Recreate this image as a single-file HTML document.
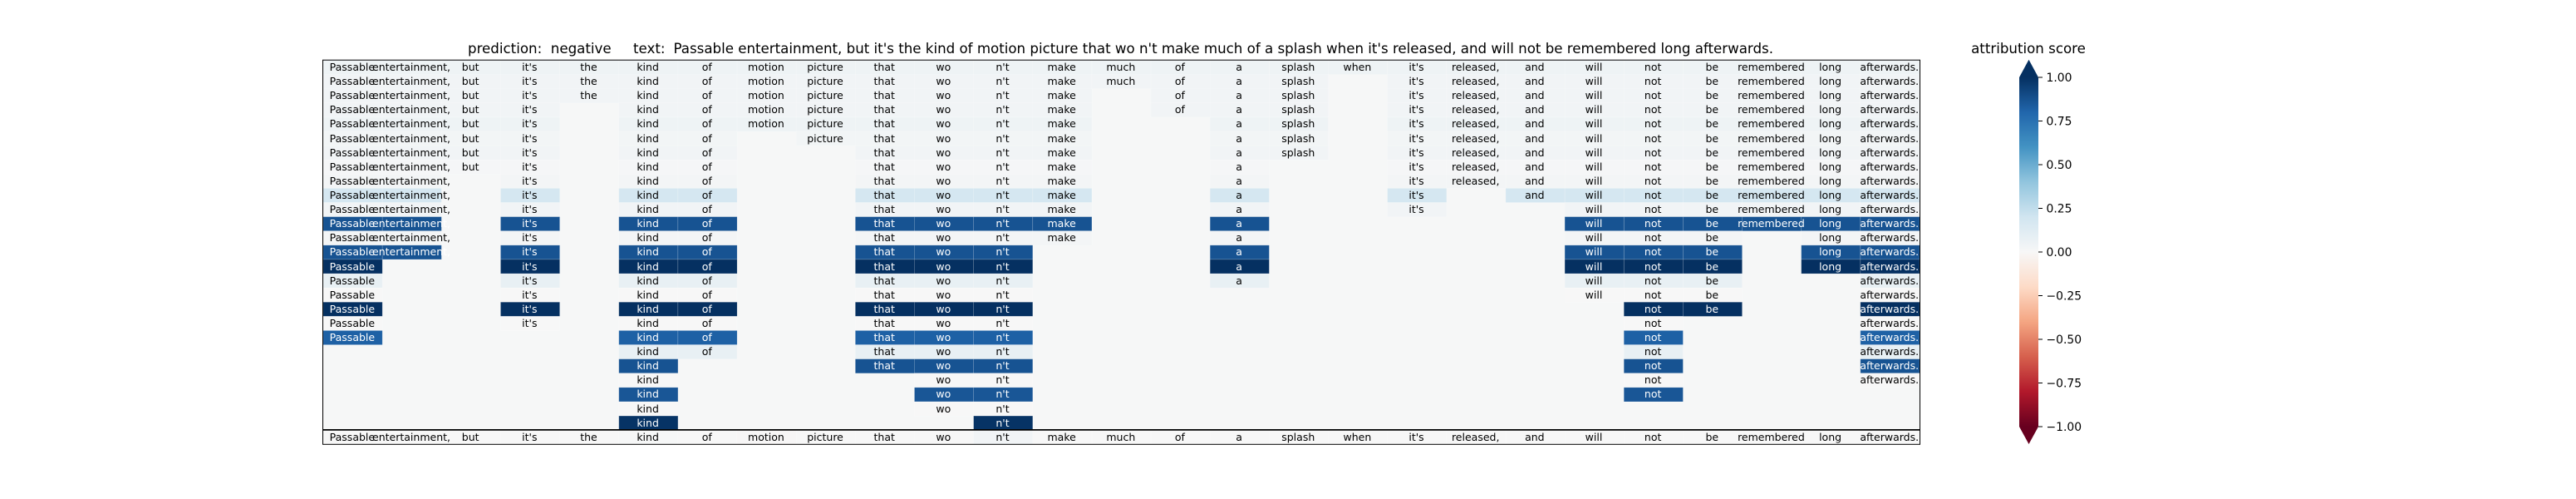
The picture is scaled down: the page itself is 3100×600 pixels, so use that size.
<!DOCTYPE html>
<html lang="en">
<head>
<meta charset="utf-8">
<title>Attribution chart</title>
<style>
  html, body { margin: 0; padding: 0; background: #ffffff; }
  svg { display: block; }
  text { font-family: "DejaVu Sans", "Liberation Sans", sans-serif; fill: #000000; }
  .title { font-size: 16.67px; white-space: pre; }
  .token { font-size: 12.5px; text-anchor: middle; }
  .tick-label { font-size: 13.89px; }
</style>
</head>
<body>
<svg id="figure" xmlns="http://www.w3.org/2000/svg" width="3100" height="600" viewBox="0 0 3100 600">
  <rect x="0" y="0" width="3100" height="600" fill="#ffffff"/>
  <text class="title" y="64" xml:space="preserve"><tspan x="563">prediction:  negative</tspan><tspan x="762">text:</tspan><tspan x="810.5" textLength="1323.5" lengthAdjust="spacing">Passable entertainment, but it's the kind of motion picture that wo n't make much of a splash when it's released, and will not be remembered long afterwards.</tspan></text>
  <g id="heatmap"></g>
  <g id="colorbar"></g>
  <text class="title" x="2441" y="64" text-anchor="middle">attribution score</text>
</svg>
<script>
const _ = null;
const tokens = ["Passable","entertainment,","but","it's","the","kind","of","motion","picture","that","wo","n't","make","much","of","a","splash","when","it's","released,","and","will","not","be","remembered","long","afterwards."];
const row00 = [.05,.05,.05,.05,.05,.05,.05,.05,.05,.05,.05,.05,.05,.05,.05,.05,.05,.05,.05,.05,.05,.05,.05,.05,.05,.05,.05];
const row01 = [.03,.03,.03,.03,.03,.03,.03,.03,.03,.03,.03,.03,.03,.03,.03,.03,.03,_,.03,.03,.03,.03,.03,.03,.03,.03,.03];
const row02 = [.03,.03,.03,.03,.03,.03,.03,.03,.03,.03,.03,.03,.03,_,.03,.03,.03,_,.03,.03,.03,.03,.03,.03,.03,.03,.03];
const row03 = [.03,.03,.03,.03,_,.03,.03,.03,.03,.03,.03,.03,.03,_,.03,.03,.03,_,.03,.03,.03,.03,.03,.03,.03,.03,.03];
const row04 = [.05,.05,.05,.05,_,.05,.05,.05,.05,.05,.05,.05,.05,_,_,.05,.05,_,.05,.05,.05,.05,.05,.05,.05,.05,.05];
const row05 = [.025,.025,.025,.025,_,.025,.025,_,.025,.025,.025,.025,.025,_,_,.025,.025,_,.025,.025,.025,.025,.025,.025,.025,.025,.025];
const row06 = [.03,.03,.03,.03,_,.03,.03,_,_,.03,.03,.03,.03,_,_,.03,.03,_,.03,.03,.03,.03,.03,.03,.03,.03,.03];
const row07 = [.008,.008,.008,.008,_,.008,.008,_,_,.008,.008,.008,.008,_,_,.008,_,_,.008,.008,.008,.008,.008,.008,.008,.008,.008];
const row08 = [.02,.02,_,.02,_,.02,.02,_,_,.02,.02,.02,.02,_,_,.02,_,_,.02,.02,.02,.02,.02,.02,.02,.02,.02];
const row09 = [.18,.18,_,.18,_,.18,.18,_,_,.18,.18,.18,.18,_,_,.18,_,_,.18,_,.18,.18,.18,.18,.18,.18,.18];
const row10 = [.03,.03,_,.03,_,.03,.03,_,_,.03,.03,.03,.03,_,_,.03,_,_,.03,_,_,.03,.03,.03,.03,.03,.03];
const row11 = [.87,.87,_,.87,_,.87,.87,_,_,.87,.87,.87,.87,_,_,.87,_,_,_,_,_,.87,.87,.87,.87,.87,.87];
const row12 = [.02,.02,_,.02,_,.02,.02,_,_,.02,.02,.02,.02,_,_,.02,_,_,_,_,_,.02,.02,.02,_,.02,.02];
const row13 = [.87,.87,_,.87,_,.87,.87,_,_,.87,.87,.87,_,_,_,.87,_,_,_,_,_,.87,.87,.87,_,.87,.87];
const row14 = [1,_,_,1,_,1,1,_,_,1,1,1,_,_,_,1,_,_,_,_,_,1,1,1,_,1,1];
const row15 = [.08,_,_,.08,_,.08,.08,_,_,.08,.08,.08,_,_,_,.08,_,_,_,_,_,.08,.08,.08,_,_,.08];
const row16 = [0,_,_,0,_,0,0,_,_,0,0,0,_,_,_,_,_,_,_,_,_,0,0,0,_,_,0];
const row17 = [1,_,_,1,_,1,1,_,_,1,1,1,_,_,_,_,_,_,_,_,_,_,1,1,_,_,1];
const row18 = [0,_,_,0,_,0,0,_,_,0,0,0,_,_,_,_,_,_,_,_,_,_,0,_,_,_,0];
const row19 = [.82,_,_,_,_,.82,.82,_,_,.82,.82,.82,_,_,_,_,_,_,_,_,_,_,.82,_,_,_,.82];
const row20 = [_,_,_,_,_,.08,.08,_,_,.08,.08,.08,_,_,_,_,_,_,_,_,_,_,.08,_,_,_,.08];
const row21 = [_,_,_,_,_,.87,_,_,_,.87,.87,.87,_,_,_,_,_,_,_,_,_,_,.87,_,_,_,.87];
const row22 = [_,_,_,_,_,0,_,_,_,_,0,0,_,_,_,_,_,_,_,_,_,_,0,_,_,_,0];
const row23 = [_,_,_,_,_,.86,_,_,_,_,.86,.86,_,_,_,_,_,_,_,_,_,_,.86,_,_,_,_];
const row24 = [_,_,_,_,_,0,_,_,_,_,0,0,_,_,_,_,_,_,_,_,_,_,_,_,_,_,_];
const row25 = [_,_,_,_,_,.99,_,_,_,_,_,.99,_,_,_,_,_,_,_,_,_,_,_,_,_,_,_];
const row26 = [.002,.002,.002,.002,.002,.004,.002,-.006,.002,.002,.002,.03,.002,.002,.002,.002,.002,.002,.002,.002,.002,.002,.002,.002,.002,.002,.002];
const tickValues = [1, 0.75, 0.5, 0.25, 0, -0.25, -0.5, -0.75, -1];
const tickLabels = ["1.00", "0.75", "0.50", "0.25", "0.00", "\u22120.25", "\u22120.50", "\u22120.75", "\u22121.00"];
const rdBu = ["#67001f","#b2182b","#d6604d","#f4a582","#fddbc7","#f7f7f7","#d1e5f0","#92c5de","#4393c3","#2166ac","#053061"];

const rows = [row00,row01,row02,row03,row04,row05,row06,row07,row08,row09,row10,row11,row12,row13,row14,row15,row16,row17,row18,row19,row20,row21,row22,row23,row24,row25,row26];
const NS = "http://www.w3.org/2000/svg";
const plot = { left: 389, right: 2310, top: 72.5, bottom: 534.3 };
const bar = { left: 2430, right: 2453, top: 93, bottom: 513, tipTop: 71.7, tipBottom: 534 };
const colWidth = (plot.right - plot.left) / tokens.length;
const rowHeight = (plot.bottom - plot.top) / rows.length;
const xCol = function (c) { return plot.left + c * colWidth; };
const yRow = function (r) { return plot.top + r * rowHeight; };
const yScore = function (v) { return bar.bottom - (v + 1) / 2 * (bar.bottom - bar.top); };

function hexToRgb(h) {
  return [parseInt(h.slice(1, 3), 16), parseInt(h.slice(3, 5), 16), parseInt(h.slice(5, 7), 16)];
}
function cmap(v) {
  const t = Math.max(0, Math.min(1, (v + 1) / 2)) * (rdBu.length - 1);
  const i = Math.min(rdBu.length - 2, Math.floor(t));
  const a = hexToRgb(rdBu[i]);
  const b = hexToRgb(rdBu[i + 1]);
  const f = t - i;
  return "rgb(" + [0, 1, 2].map(function (k) { return Math.round(a[k] + (b[k] - a[k]) * f); }).join(",") + ")";
}
function make(tag, attrs, parent) {
  const el = document.createElementNS(NS, tag);
  Object.keys(attrs).forEach(function (k) { el.setAttribute(k, attrs[k]); });
  parent.appendChild(el);
  return el;
}

const heatmap = document.getElementById("heatmap");
const plotBg = make("rect", { x: plot.left, y: plot.top, width: plot.right - plot.left, height: plot.bottom - plot.top, fill: "#f6f7f7" }, heatmap);



rows.forEach(function (values, r) {
  values.forEach(function (v, c) {
    if (v === null) return;
    const cell = make("rect", {
      x: xCol(c), y: yRow(r), width: colWidth, height: rowHeight,
      fill: cmap(v), stroke: "#ffffff", "stroke-opacity": 0.22, "stroke-width": 0.7
    }, heatmap);
    
    
  });
});
rows.forEach(function (values, r) {
  values.forEach(function (v, c) {
    if (v === null) return;
    const label = make("text", { class: "token", x: xCol(c) + colWidth / 2 - 0.7, y: Math.round(yRow(r) + rowHeight / 2 + 4) }, heatmap);
    label.textContent = tokens[c];
    label.style.fill = Math.abs(v) > 0.5 ? "#ffffff" : "#000000";
    
    
  });
});

const separator = make("line", { x1: plot.left, x2: plot.right, y1: yRow(rows.length - 1) - 0.3, y2: yRow(rows.length - 1) - 0.3, stroke: "#000000", "stroke-width": 1.7 }, heatmap);


const frame = make("rect", { x: plot.left - 0.5, y: plot.top - 0.3, width: plot.right - plot.left + 1, height: plot.bottom - plot.top + 0.3, fill: "none", stroke: "#000000", "stroke-width": 1 }, heatmap);



const colorbar = document.getElementById("colorbar");
const defs = make("defs", {}, colorbar);
const gradient = make("linearGradient", { id: "rdbu-gradient", x1: 0, y1: 1, x2: 0, y2: 0 }, defs);
rdBu.forEach(function (color, i) {
  make("stop", { offset: i / (rdBu.length - 1), "stop-color": color }, gradient);
});
const barBody = make("rect", { x: bar.left, y: yScore(1), width: bar.right - bar.left, height: yScore(-1) - yScore(1), fill: "url(#rdbu-gradient)" }, colorbar);


const tipUp = make("polygon", { points: bar.left + "," + bar.top + " " + bar.right + "," + bar.top + " " + (bar.left + bar.right) / 2 + "," + bar.tipTop, fill: cmap(1) }, colorbar);


const tipDown = make("polygon", { points: bar.left + "," + bar.bottom + " " + bar.right + "," + bar.bottom + " " + (bar.left + bar.right) / 2 + "," + bar.tipBottom, fill: cmap(-1) }, colorbar);



tickValues.forEach(function (v, i) {
  const y = yScore(v);
  const tick = make("line", { x1: bar.right, x2: bar.right + 5, y1: y, y2: y, stroke: "#000000", "stroke-width": 1 }, colorbar);
  
  
  const label = make("text", { class: "tick-label", x: bar.right + 9.5, y: y + 5 }, colorbar);
  label.textContent = tickLabels[i];
  
  
});
</script>
</body>
</html>
